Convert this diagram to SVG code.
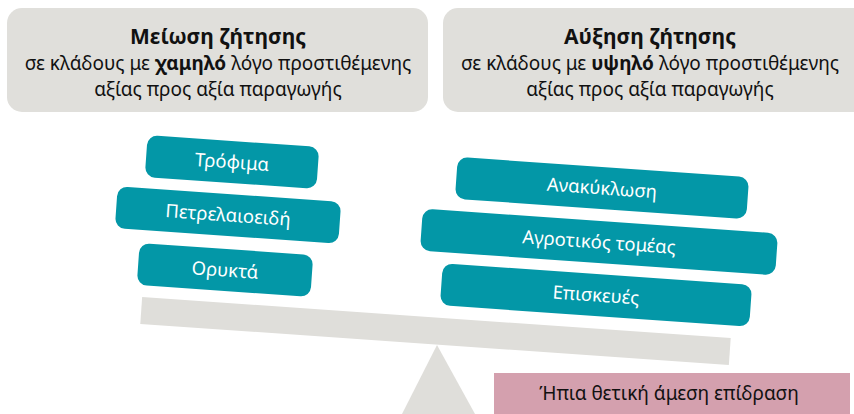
<svg xmlns="http://www.w3.org/2000/svg" width="854" height="414" viewBox="0 0 854 414">
<style>
.hdr{fill:#e0dfdb}
.t{font-family:"Noto Sans","DejaVu Sans",sans-serif;fill:#111111;text-anchor:middle}
.title{font-size:21px;font-weight:bold}
.sub{font-size:19px}
.teal{fill:#0397a7}
.w{font-family:"Noto Sans","DejaVu Sans",sans-serif;fill:#ffffff;font-size:18.5px;text-anchor:middle}
.grey{fill:#dfdeda}
</style>
<rect width="854" height="414" fill="#ffffff"/>
<g id="hdr-left">
<rect class="hdr" x="7" y="8" width="421" height="104" rx="15"/>
<text class="t title" x="218" y="44">Μείωση ζήτησης</text>
<text class="t sub" x="218" y="70">σε κλάδους με <tspan font-weight="bold">χαμηλό</tspan> λόγο προστιθέμενης</text>
<text class="t sub" x="218" y="96">αξίας προς αξία παραγωγής</text>
</g>
<g id="hdr-right">
<rect class="hdr" x="443" y="8" width="425" height="104" rx="15"/>
<text class="t title" x="650" y="44">Αύξηση ζήτησης</text>
<text class="t sub" x="650" y="70">σε κλάδους με <tspan font-weight="bold">υψηλό</tspan> λόγο προστιθέμενης</text>
<text class="t sub" x="650" y="96">αξίας προς αξία παραγωγής</text>
</g>
<g id="beam">
<rect class="grey" x="-295" y="-13.5" width="590" height="27" transform="translate(435.5,331) rotate(4)"/>
<polygon class="grey" points="437,345 402,414 475,414"/>
</g>
<g id="n-trofima" transform="translate(232,162) rotate(4)">
<rect class="teal" x="-86" y="-21" width="172" height="42" rx="10"/>
<text class="w" y="6.5">Τρόφιμα</text>
</g>
<g id="n-petrelaioeidi" transform="translate(228,215) rotate(4)">
<rect class="teal" x="-112" y="-21" width="224" height="42" rx="10"/>
<text class="w" y="6.5">Πετρελαιοειδή</text>
</g>
<g id="n-orykta" transform="translate(225,270) rotate(4)">
<rect class="teal" x="-87" y="-21" width="174" height="42" rx="10"/>
<text class="w" y="6.5">Ορυκτά</text>
</g>
<g id="n-anakyklosi" transform="translate(602,188) rotate(4)">
<rect class="teal" x="-146" y="-21" width="292" height="42" rx="10"/>
<text class="w" y="6.5">Ανακύκλωση</text>
</g>
<g id="n-agrotikos" transform="translate(599,242) rotate(4)">
<rect class="teal" x="-178" y="-21" width="356" height="42" rx="10"/>
<text class="w" y="6.5">Αγροτικός τομέας</text>
</g>
<g id="n-episkeves" transform="translate(596,295) rotate(4)">
<rect class="teal" x="-155" y="-21" width="310" height="42" rx="10"/>
<text class="w" y="6.5">Επισκευές</text>
</g>
<g id="legend">
<rect x="494" y="373" width="356" height="41" fill="#d4a0ae"/>
<text class="t sub" x="669" y="400">Ήπια θετική άμεση επίδραση</text>
</g>
<g id="connectors"/>
</svg>
